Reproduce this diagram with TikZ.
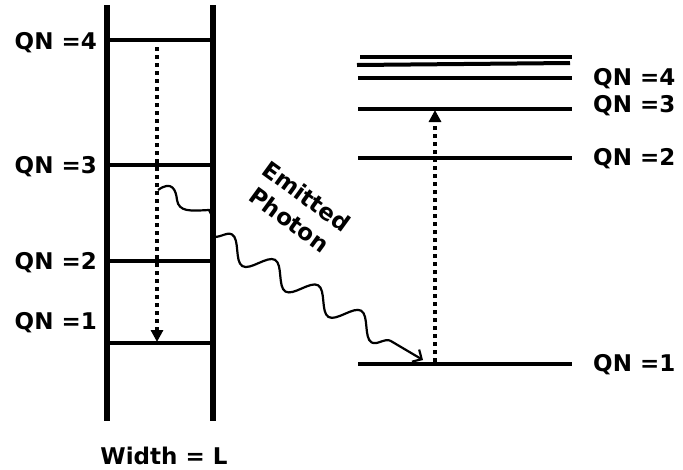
\documentclass[tikz,border=0pt]{standalone}
\usepackage{fontspec}
\setmainfont{DejaVu Sans}
\usetikzlibrary{arrows.meta,decorations.pathmorphing}

\tikzset{
  wall/.style={line width=6pt},
  level/.style={line width=4pt},
  jump/.style={line width=4pt,dash pattern=on 4pt off 4pt,-{Triangle[length=12pt,width=12pt]}},
  qn/.style={font=\fontsize{23}{27}\selectfont\bfseries,inner sep=0pt},
  photon/.style={line width=2.2pt,decorate,decoration={snake,amplitude=11pt,segment length=50pt,post length=20pt}}
}

\begin{document}
\begin{tikzpicture}[x=1pt,y=-1pt]
 \useasboundingbox (0,0) rectangle (683,469);

 % box of width L
 \draw[wall] (107,5)--(107,421);
 \draw[wall] (213,5)--(213,421);
 \foreach \y in {40,165,261,343}
   \draw[level] (107,\y)--(213,\y);
 \node[qn,anchor=east] (lq4) at (97,43) {QN =4};
 \node[qn,anchor=east] (lq3) at (97,167) {QN =3};
 \node[qn,anchor=east] (lq2) at (97,263) {QN =2};
 \node[qn,anchor=east] (lq1) at (97,323) {QN =1};
 \node[qn] (width) at (164,456) {Width = L};

 \coordinate (ltop) at (157,47);
 \coordinate (lbot) at (157,342);
 \draw[jump] (ltop)--(lbot);

 % levels of the atom
 \draw[level] (360,57)--(572,57);
 \draw[level] (357,65)--(570,63);
 \foreach \y in {78,109,158,364}
   \draw[level] (358,\y)--(572,\y);
 \node[qn,anchor=west] (rq4) at (593,79) {QN =4};
 \node[qn,anchor=west] (rq3) at (593,106) {QN =3};
 \node[qn,anchor=west] (rq2) at (593,159) {QN =2};
 \node[qn,anchor=west] (rq1) at (593,365) {QN =1};

 \coordinate (rbot) at (435,362);
 \coordinate (rtop) at (435,110);
 \draw[jump] (rbot)--(rtop);

 % emitted photon
 \coordinate (emit) at (158,190);
 \coordinate (hit) at (213,236);
 \coordinate (absorb) at (423,360);
 \draw[line width=2.2pt] (emit) .. controls (172,180) and (176,190) .. (177,200)
   .. controls (179,212) and (190,211) .. (209,210) -- (212,216) -- (hit);
 \draw[photon,-{Straight Barb[angle=90:10pt]}] (hit) -- (absorb);
 \node[qn,rotate=-36,align=center,font=\fontsize{23}{29}\selectfont\bfseries] (name) at (298,208) {Emitted\\Photon};
\end{tikzpicture}
\end{document}
